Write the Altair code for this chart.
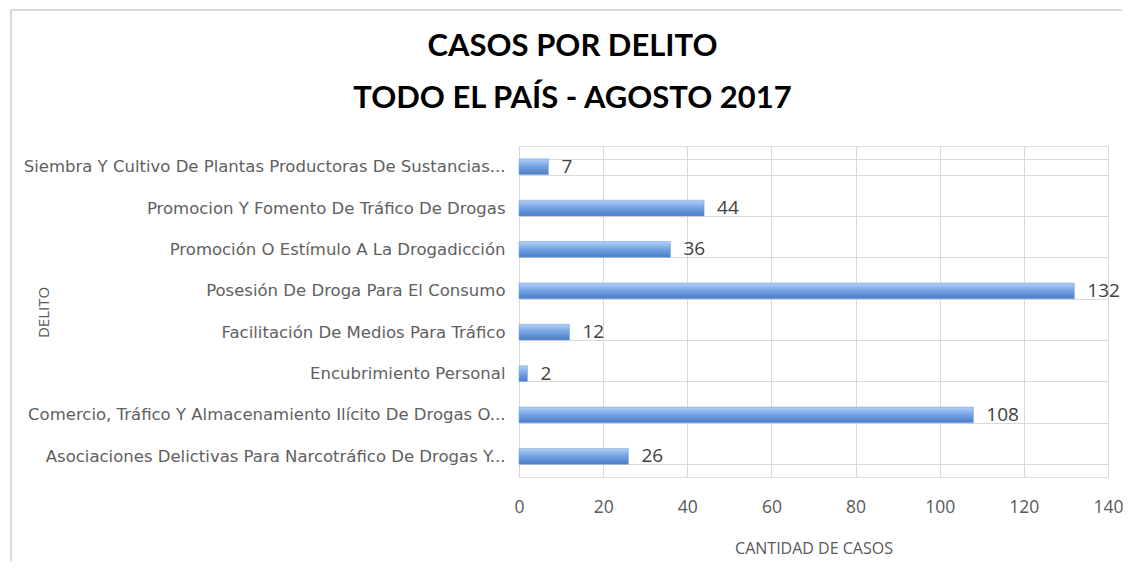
import altair as alt
import pandas as pd

categories = [
    "Siembra Y Cultivo De Plantas Productoras De Sustancias...",
    "Promocion Y Fomento De Tráfico De Drogas",
    "Promoción O Estímulo A La Drogadicción",
    "Posesión De Droga Para El Consumo",
    "Facilitación De Medios Para Tráfico",
    "Encubrimiento Personal",
    "Comercio, Tráfico Y Almacenamiento Ilícito De Drogas O...",
    "Asociaciones Delictivas Para Narcotráfico De Drogas Y...",
]
casos = [7, 44, 36, 132, 12, 2, 108, 26]
x_ticks = [0, 20, 40, 60, 80, 100, 120, 140]

title_lines = ["CASOS POR DELITO", "TODO EL PAÍS - AGOSTO 2017"]
x_title = "CANTIDAD DE CASOS"
y_title = "DELITO"

df = pd.DataFrame({"Delito": categories, "Casos": casos})

W, H = 589, 331
GRID = "#d9d9d9"
LABEL = "#595959"
FONT = "Open Sans"

y_enc = alt.Y(
    "Delito:N",
    sort=categories,
    scale=alt.Scale(paddingInner=0.62, paddingOuter=0.31),
    axis=alt.Axis(
        title=y_title,
        ticks=False,
        domain=False,
        grid=True,
        gridColor=GRID,
        tickBand="extent",
        labelPadding=14,
        labelLimit=0,
        labelFont="DejaVu Sans",
        labelFontSize=16.5,
        labelColor="#606060",
        titleFont=FONT,
        titleFontSize=15,
        titleFontWeight="normal",
        titleColor=LABEL,
        titleX=-476,
        titleY=166,
        titleBaseline="middle",
        titleAlign="center",
        titleAngle=270,
    ),
)

x_enc = alt.X(
    "Casos:Q",
    scale=alt.Scale(domain=[0, 140], nice=False),
    axis=alt.Axis(
        title=x_title,
        values=x_ticks,
        ticks=False,
        tickSize=0,
        domain=False,
        grid=True,
        gridColor=GRID,
        labelFlush=False,
        labelPadding=21,
        labelFont=FONT,
        labelFontSize=17.5,
        labelColor=LABEL,
        titleFont=FONT,
        titleFontSize=16,
        titleFontWeight="normal",
        titleColor=LABEL,
        titlePadding=25,
    ),
)

grad = alt.Gradient(
    gradient="linear",
    stops=[
        alt.GradientStop(color="#b3d0f5", offset=0),
        alt.GradientStop(color="#78a6e4", offset=0.45),
        alt.GradientStop(color="#4a7cc6", offset=1),
    ],
    x1=0, x2=0, y1=0, y2=1,
)

bars = alt.Chart(df).mark_bar(color=grad, stroke="#6f9fdc", strokeWidth=0.5).encode(x=x_enc, y=y_enc)

labels = alt.Chart(df).mark_text(
    align="left", baseline="middle", dx=13, font=FONT, fontSize=19, color="#404040"
).encode(x="Casos:Q", y=alt.Y("Delito:N", sort=categories), text="Casos:Q")

frame_left = alt.Chart(df).mark_rule(color="#d9d9d9", strokeWidth=2).encode(
    x=alt.value(-508), y=alt.value(-136), y2=alt.value(H + 84)
)
frame_top = alt.Chart(df).mark_rule(color="#d9d9d9", strokeWidth=2).encode(
    x=alt.value(-508), x2=alt.value(W + 14), y=alt.value(-136)
)

chart = (
    alt.layer(frame_left, frame_top, bars, labels)
    .properties(
        width=W,
        height=H,
        padding={"left": 2, "top": 1, "right": 0, "bottom": 0},
        title=alt.TitleParams(
            text=title_lines,
            font="Lato",
            fontSize=31,
            fontWeight="bold",
            color="#000000",
            anchor="middle",
            frame="bounds",
            lineHeight=52,
            offset=-106,
            dx=6,
        ),
    )
    .configure_view(stroke=GRID, strokeWidth=1)
    .configure(background="white")
)

chart.save("out.html", embed_options={"renderer": "svg", "actions": False})
